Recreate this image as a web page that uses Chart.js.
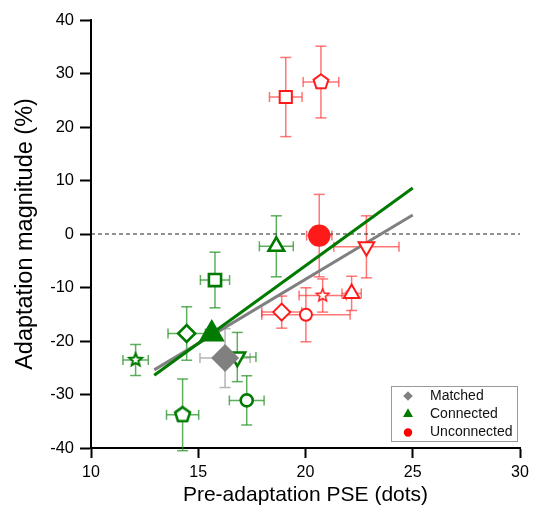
<!DOCTYPE html>
<html><head><meta charset="utf-8">
<script src="https://cdn.jsdelivr.net/npm/chart.js@4"></script>
<style>html,body{margin:0;padding:0;background:#fff}</style>
</head><body>
<canvas id="c" width="539" height="506"></canvas>
<script>
// ---- Data ----
const unconnectedX    = [19.08, 20.72, 20.64, 22.84, 20.80, 22.15, 18.89, 20.02];
const unconnectedY    = [25.6, 28.4, -0.3, -2.4, -11.5, -11.1, -14.6, -15.1];
const unconnectedXErr = [0.76, 0.83, 0.59, 1.52, 1.10, 0.45, 0.93, 2.06];
const unconnectedYErr = [7.4, 6.7, 7.7, 5.8, 3.1, 3.2, 3.0, 5.05];
const unconnectedShapes = ['square','pentagon','bigcircle','downtriangle','star','triangle','diamond','circle'];

const connectedX    = [15.63, 14.46, 12.08, 16.82, 17.26, 14.27, 15.78, 18.64];
const connectedY    = [-18.7, -18.6, -23.55, -23.0, -31.1, -33.8, -8.6, -2.3];
const connectedXErr = [0, 0.87, 0.59, 0.87, 0.81, 0.75, 0.68, 0.79];
const connectedYErr = [0, 5.0, 2.9, 4.6, 4.6, 6.7, 5.2, 5.7];
const connectedShapes = ['bigtriangle','diamond','star','downtriangle','circle','pentagon','square','triangle'];

const matchedX    = [16.25];
const matchedY    = [-23.2];
const matchedXErr = [1.17];
const matchedYErr = [5.5];
const matchedShapes = ['bigdiamond'];

const fitX = [12.95, 25.0];
const connectedFitY = [-26.4, 8.6];
const matchedFitY = [-25.4, 3.55];
const zeroX = [10, 30];
const zeroY = [0, 0];

const legendLabels = ['Matched', 'Connected', 'Unconnected'];
const xTitle = 'Pre-adaptation PSE (dots)';
const yTitle = 'Adaptation magnitude (%)';

// ---- Colours ----
const RED = '#ff1a1a', RED_ERR = 'rgba(255,60,60,0.7)';
const GREEN = '#007a00', GREEN_ERR = 'rgba(40,150,40,0.75)';
const GRAY = '#808080', GRAY_ERR = '#b4b4b4';
const FONT = '"Liberation Sans", Arial, Helvetica, sans-serif';

// ---- custom shapes as canvas point styles ----
function polyCanvas(kind, r, stroke, lw) {
  const S = Math.ceil(2 * (r + lw)) + 2;
  const cv = document.createElement('canvas');
  cv.width = S; cv.height = S;
  const g = cv.getContext('2d');
  const c = S / 2;
  g.beginPath();
  if (kind === 'pentagon') {
    for (let k = 0; k < 5; k++) {
      const a = -Math.PI / 2 + k * 2 * Math.PI / 5;
      const px = c + r * Math.cos(a), py = c + r * Math.sin(a);
      k ? g.lineTo(px, py) : g.moveTo(px, py);
    }
  } else {
    const ri = r * 0.45;
    for (let k = 0; k < 10; k++) {
      const a = -Math.PI / 2 + k * Math.PI / 5;
      const rr = k % 2 ? ri : r;
      const px = c + rr * Math.cos(a), py = c + rr * Math.sin(a);
      k ? g.lineTo(px, py) : g.moveTo(px, py);
    }
  }
  g.closePath();
  g.fillStyle = '#fff'; g.fill();
  g.lineWidth = lw; g.strokeStyle = stroke; g.lineJoin = 'miter'; g.stroke();
  return cv;
}

function shapeStyle(name, color, lw) {
  switch (name) {
    case 'square': return {ps: 'rect', r: 8.6, bg: '#fff', rot: 0, bw: lw};
    case 'circle': return {ps: 'circle', r: 6, bg: '#fff', rot: 0, bw: lw};
    case 'diamond': return {ps: 'rectRot', r: 8.5, bg: '#fff', rot: 0, bw: lw};
    case 'triangle': return {ps: 'triangle', r: 9, bg: '#fff', rot: 0, bw: lw};
    case 'downtriangle': return {ps: 'triangle', r: 9, bg: '#fff', rot: 180, bw: lw};
    case 'pentagon': return {ps: polyCanvas('pentagon', 7.8, color, lw), r: 8, bg: '#fff', rot: 0, bw: lw};
    case 'star': return {ps: polyCanvas('star', 6.6, color, lw - 0.5), r: 7, bg: '#fff', rot: 0, bw: lw};
    case 'bigcircle': return {ps: 'circle', r: 11.2, bg: color, rot: 0, bw: 0};
    case 'bigtriangle': return {ps: 'triangle', r: 15, bg: color, rot: 0, bw: 0};
    case 'bigdiamond': return {ps: 'rectRot', r: 14, bg: color, rot: 0, bw: 0};
  }
}

function scatterDataset(label, xs, ys, exs, eys, shapes, color, errColor, lw) {
  const st = shapes.map(s => shapeStyle(s, color, lw));
  return {
    type: 'scatter',
    label: label,
    data: xs.map((x, i) => ({x: x, y: ys[i]})),
    errX: exs, errY: eys, errColor: errColor,
    pointStyle: st.map(s => s.ps),
    pointRadius: st.map(s => s.r),
    pointBackgroundColor: st.map(s => s.bg),
    pointBorderColor: color,
    pointBorderWidth: st.map(s => s.bw),
    pointRotation: st.map(s => s.rot),
    showLine: false
  };
}

function lineDataset(xs, ys, color, width, dash) {
  return {
    type: 'line',
    data: xs.map((x, i) => ({x: x, y: ys[i]})),
    borderColor: color, borderWidth: width, borderDash: dash || [],
    pointRadius: 0, fill: false, tension: 0
  };
}

const errorBars = {
  id: 'errorBars',
  beforeDatasetsDraw(chart) {
    const ctx = chart.ctx, xs = chart.scales.x, ys = chart.scales.y;
    const seg = (a, b, c, d) => { ctx.beginPath(); ctx.moveTo(a, b); ctx.lineTo(c, d); ctx.stroke(); };
    chart.data.datasets.forEach(ds => {
      if (!ds.errX) return;
      ctx.save();
      ctx.strokeStyle = ds.errColor; ctx.lineWidth = 1.5;
      ds.data.forEach((p, j) => {
        const ex = ds.errX[j], ey = ds.errY[j];
        const cx = xs.getPixelForValue(p.x), cy = ys.getPixelForValue(p.y);
        if (ex > 0) {
          const x0 = xs.getPixelForValue(p.x - ex), x1 = xs.getPixelForValue(p.x + ex);
          seg(x0, cy, x1, cy); seg(x0, cy - 5, x0, cy + 5); seg(x1, cy - 5, x1, cy + 5);
        }
        if (ey > 0) {
          const y0 = ys.getPixelForValue(p.y - ey), y1 = ys.getPixelForValue(p.y + ey);
          seg(cx, y0, cx, y1); seg(cx - 5.5, y0, cx + 5.5, y0); seg(cx - 5.5, y1, cx + 5.5, y1);
        }
      });
      ctx.restore();
    });
  }
};

const legendBox = {
  id: 'legendBox',
  afterDraw(chart) {
    const ctx = chart.ctx, a = chart.chartArea;
    const right = a.right - 2, bottom = a.bottom - 6, left = right - 127, top = bottom - 56;
    ctx.save();
    ctx.fillStyle = '#fff'; ctx.fillRect(left, top, right - left, bottom - top);
    ctx.strokeStyle = '#9a9a9a'; ctx.lineWidth = 1;
    ctx.strokeRect(left + 0.5, top + 0.5, right - left - 1, bottom - top - 1);
    const mx = left + 17, tx = left + 39;
    const rows = [top + 10, top + 28, top + 46.5];
    // diamond
    ctx.fillStyle = GRAY; ctx.beginPath();
    ctx.moveTo(mx - 4.8, rows[0]); ctx.lineTo(mx, rows[0] - 4.8); ctx.lineTo(mx + 4.8, rows[0]); ctx.lineTo(mx, rows[0] + 4.8);
    ctx.closePath(); ctx.fill();
    // triangle
    const tr = 5.8; ctx.fillStyle = GREEN; ctx.beginPath();
    ctx.moveTo(mx, rows[1] - tr); ctx.lineTo(mx + tr * 0.866, rows[1] + tr / 2); ctx.lineTo(mx - tr * 0.866, rows[1] + tr / 2);
    ctx.closePath(); ctx.fill();
    // circle
    ctx.fillStyle = '#ff0000'; ctx.beginPath(); ctx.arc(mx, rows[2], 4.2, 0, Math.PI * 2); ctx.fill();
    ctx.fillStyle = '#111'; ctx.font = '14px ' + FONT; ctx.textBaseline = 'middle'; ctx.textAlign = 'left';
    legendLabels.forEach((t, i) => ctx.fillText(t, tx, rows[i]));
    ctx.restore();
  }
};

Chart.defaults.font.family = FONT;
Chart.defaults.color = '#000';

new Chart(document.getElementById('c'), {
  type: 'scatter',
  data: {
    datasets: [
      scatterDataset('Matched', matchedX, matchedY, matchedXErr, matchedYErr, matchedShapes, GRAY, GRAY_ERR, 2),
      scatterDataset('Connected', connectedX, connectedY, connectedXErr, connectedYErr, connectedShapes, GREEN, GREEN_ERR, 2.6),
      scatterDataset('Unconnected', unconnectedX, unconnectedY, unconnectedXErr, unconnectedYErr, unconnectedShapes, RED, RED_ERR, 2),
      lineDataset(fitX, connectedFitY, GREEN, 3),
      lineDataset(fitX, matchedFitY, GRAY, 3),
      lineDataset(zeroX, zeroY, '#222', 1, [4, 3])
    ]
  },
  options: {
    responsive: false,
    animation: false,
    events: [],
    layout: {padding: {top: 20, right: 19, left: 0, bottom: 0}},
    plugins: {legend: {display: false}, tooltip: {enabled: false}},
    scales: {
      x: {
        type: 'linear', min: 10, max: 30,
        ticks: {stepSize: 5, font: {size: 16}, color: '#000', padding: 5, maxRotation: 0},
        grid: {display: true, drawOnChartArea: false, drawTicks: true, tickLength: 10, tickColor: '#000', tickWidth: 2},
        border: {display: true, color: '#000', width: 2},
        title: {display: true, text: xTitle, font: {size: 21, lineHeight: 1}, color: '#000', padding: {top: 0, bottom: 0}},
        afterFit: s => { s.height = 58; }
      },
      y: {
        type: 'linear', min: -40, max: 40,
        ticks: {stepSize: 10, font: {size: 16.5}, color: '#000', padding: 6},
        grid: {display: true, drawOnChartArea: false, drawTicks: true, tickLength: 11, tickColor: '#000', tickWidth: 2},
        border: {display: true, color: '#000', width: 2},
        title: {display: true, text: yTitle, font: {size: 23.5, lineHeight: 1}, color: '#000', padding: {top: 14, bottom: 0}},
        afterFit: s => { s.width = 91; }
      }
    }
  },
  plugins: [errorBars, legendBox]
});
</script>
</body></html>
